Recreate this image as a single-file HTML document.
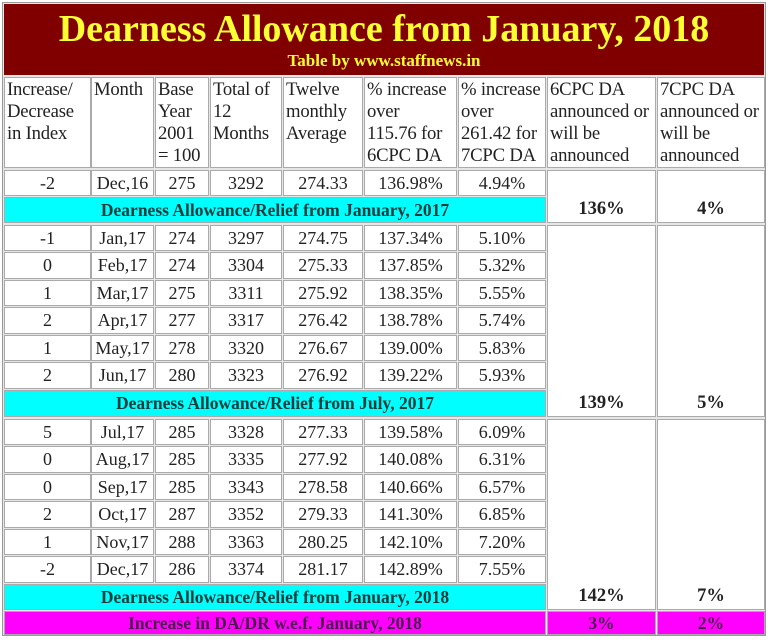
<!DOCTYPE html>
<html><head><meta charset="utf-8"><style>
body{margin:0;width:768px;height:640px;background:#fff;position:relative;overflow:hidden;font-family:"Liberation Serif",serif;}
.o{position:absolute;left:2px;top:2px;width:764px;height:634px;border:1px solid #999;box-sizing:border-box;background:#e6e6e6}
.c{position:absolute;box-sizing:border-box;border:1px solid #aaa;background:#fff;color:#222;font-size:18px;text-align:center;display:flex;align-items:center;justify-content:center;white-space:nowrap}
.h{align-items:flex-start;justify-content:flex-start;text-align:left;white-space:normal;line-height:22px;font-size:18.7px;padding:1px 0 0 2px;letter-spacing:-0.2px}
.cy{background:#00ffff;font-weight:bold;color:#173a3a;font-size:17.5px}
.mg{background:#ff00ff;font-weight:bold;color:#4a1a4a;font-size:17.5px}
.b{font-weight:bold;align-items:flex-end;padding-bottom:2px;font-size:18.5px}
.t{position:absolute;left:4px;top:4px;width:760px;height:71px;background:#800000;color:#ffff33;font-weight:bold;text-align:center}
</style></head><body>
<div class="o"></div>
<div class="t"><div style="font-size:38px;line-height:44px;margin-top:3px">Dearness Allowance from January, 2018</div><div style="font-size:17px;line-height:20px">Table by www.staffnews.in</div></div>

<div class="c h" style="left:4px;top:77px;width:87px;height:91px">Increase/ Decrease in Index</div>
<div class="c h" style="left:91px;top:77px;width:63px;height:91px">Month</div>
<div class="c h" style="left:155px;top:77px;width:54px;height:91px">Base Year 2001 = 100</div>
<div class="c h" style="left:210px;top:77px;width:72px;height:91px">Total of 12 Months</div>
<div class="c h" style="left:283px;top:77px;width:80px;height:91px">Twelve monthly Average</div>
<div class="c h" style="left:364px;top:77px;width:93px;height:91px">% increase<br>over<br>115.76 for<br>6CPC DA</div>
<div class="c h" style="left:458px;top:77px;width:88px;height:91px">% increase<br>over<br>261.42 for<br>7CPC DA</div>
<div class="c h" style="left:547px;top:77px;width:109px;height:91px">6CPC DA<br>announced or<br>will be<br>announced</div>
<div class="c h" style="left:657px;top:77px;width:108px;height:91px">7CPC DA<br>announced or<br>will be<br>announced</div>

<div class="c" style="left:4px;top:170px;width:87px;height:26px">-2</div>
<div class="c" style="left:91px;top:170px;width:63px;height:26px">Dec,16</div>
<div class="c" style="left:155px;top:170px;width:54px;height:26px">275</div>
<div class="c" style="left:210px;top:170px;width:72px;height:26px">3292</div>
<div class="c" style="left:283px;top:170px;width:80px;height:26px">274.33</div>
<div class="c" style="left:364px;top:170px;width:93px;height:26px">136.98%</div>
<div class="c" style="left:458px;top:170px;width:88px;height:26px">4.94%</div>
<div class="c cy" style="left:4px;top:197px;width:542px;height:26px">Dearness Allowance/Relief from January, 2017</div>
<div class="c b" style="left:547px;top:170px;width:109px;height:53px">136%</div>
<div class="c b" style="left:657px;top:170px;width:108px;height:53px">4%</div>

<div class="c" style="left:4px;top:225px;width:87px;height:26px">-1</div>
<div class="c" style="left:91px;top:225px;width:63px;height:26px">Jan,17</div>
<div class="c" style="left:155px;top:225px;width:54px;height:26px">274</div>
<div class="c" style="left:210px;top:225px;width:72px;height:26px">3297</div>
<div class="c" style="left:283px;top:225px;width:80px;height:26px">274.75</div>
<div class="c" style="left:364px;top:225px;width:93px;height:26px">137.34%</div>
<div class="c" style="left:458px;top:225px;width:88px;height:26px">5.10%</div>

<div class="c" style="left:4px;top:252px;width:87px;height:27px">0</div>
<div class="c" style="left:91px;top:252px;width:63px;height:27px">Feb,17</div>
<div class="c" style="left:155px;top:252px;width:54px;height:27px">274</div>
<div class="c" style="left:210px;top:252px;width:72px;height:27px">3304</div>
<div class="c" style="left:283px;top:252px;width:80px;height:27px">275.33</div>
<div class="c" style="left:364px;top:252px;width:93px;height:27px">137.85%</div>
<div class="c" style="left:458px;top:252px;width:88px;height:27px">5.32%</div>

<div class="c" style="left:4px;top:280px;width:87px;height:26px">1</div>
<div class="c" style="left:91px;top:280px;width:63px;height:26px">Mar,17</div>
<div class="c" style="left:155px;top:280px;width:54px;height:26px">275</div>
<div class="c" style="left:210px;top:280px;width:72px;height:26px">3311</div>
<div class="c" style="left:283px;top:280px;width:80px;height:26px">275.92</div>
<div class="c" style="left:364px;top:280px;width:93px;height:26px">138.35%</div>
<div class="c" style="left:458px;top:280px;width:88px;height:26px">5.55%</div>

<div class="c" style="left:4px;top:307px;width:87px;height:27px">2</div>
<div class="c" style="left:91px;top:307px;width:63px;height:27px">Apr,17</div>
<div class="c" style="left:155px;top:307px;width:54px;height:27px">277</div>
<div class="c" style="left:210px;top:307px;width:72px;height:27px">3317</div>
<div class="c" style="left:283px;top:307px;width:80px;height:27px">276.42</div>
<div class="c" style="left:364px;top:307px;width:93px;height:27px">138.78%</div>
<div class="c" style="left:458px;top:307px;width:88px;height:27px">5.74%</div>

<div class="c" style="left:4px;top:335px;width:87px;height:26px">1</div>
<div class="c" style="left:91px;top:335px;width:63px;height:26px">May,17</div>
<div class="c" style="left:155px;top:335px;width:54px;height:26px">278</div>
<div class="c" style="left:210px;top:335px;width:72px;height:26px">3320</div>
<div class="c" style="left:283px;top:335px;width:80px;height:26px">276.67</div>
<div class="c" style="left:364px;top:335px;width:93px;height:26px">139.00%</div>
<div class="c" style="left:458px;top:335px;width:88px;height:26px">5.83%</div>

<div class="c" style="left:4px;top:362px;width:87px;height:27px">2</div>
<div class="c" style="left:91px;top:362px;width:63px;height:27px">Jun,17</div>
<div class="c" style="left:155px;top:362px;width:54px;height:27px">280</div>
<div class="c" style="left:210px;top:362px;width:72px;height:27px">3323</div>
<div class="c" style="left:283px;top:362px;width:80px;height:27px">276.92</div>
<div class="c" style="left:364px;top:362px;width:93px;height:27px">139.22%</div>
<div class="c" style="left:458px;top:362px;width:88px;height:27px">5.93%</div>
<div class="c cy" style="left:4px;top:390px;width:542px;height:27px">Dearness Allowance/Relief from July, 2017</div>
<div class="c b" style="left:547px;top:225px;width:109px;height:192px">139%</div>
<div class="c b" style="left:657px;top:225px;width:108px;height:192px">5%</div>

<div class="c" style="left:4px;top:419px;width:87px;height:26px">5</div>
<div class="c" style="left:91px;top:419px;width:63px;height:26px">Jul,17</div>
<div class="c" style="left:155px;top:419px;width:54px;height:26px">285</div>
<div class="c" style="left:210px;top:419px;width:72px;height:26px">3328</div>
<div class="c" style="left:283px;top:419px;width:80px;height:26px">277.33</div>
<div class="c" style="left:364px;top:419px;width:93px;height:26px">139.58%</div>
<div class="c" style="left:458px;top:419px;width:88px;height:26px">6.09%</div>

<div class="c" style="left:4px;top:446px;width:87px;height:27px">0</div>
<div class="c" style="left:91px;top:446px;width:63px;height:27px">Aug,17</div>
<div class="c" style="left:155px;top:446px;width:54px;height:27px">285</div>
<div class="c" style="left:210px;top:446px;width:72px;height:27px">3335</div>
<div class="c" style="left:283px;top:446px;width:80px;height:27px">277.92</div>
<div class="c" style="left:364px;top:446px;width:93px;height:27px">140.08%</div>
<div class="c" style="left:458px;top:446px;width:88px;height:27px">6.31%</div>

<div class="c" style="left:4px;top:474px;width:87px;height:26px">0</div>
<div class="c" style="left:91px;top:474px;width:63px;height:26px">Sep,17</div>
<div class="c" style="left:155px;top:474px;width:54px;height:26px">285</div>
<div class="c" style="left:210px;top:474px;width:72px;height:26px">3343</div>
<div class="c" style="left:283px;top:474px;width:80px;height:26px">278.58</div>
<div class="c" style="left:364px;top:474px;width:93px;height:26px">140.66%</div>
<div class="c" style="left:458px;top:474px;width:88px;height:26px">6.57%</div>

<div class="c" style="left:4px;top:501px;width:87px;height:27px">2</div>
<div class="c" style="left:91px;top:501px;width:63px;height:27px">Oct,17</div>
<div class="c" style="left:155px;top:501px;width:54px;height:27px">287</div>
<div class="c" style="left:210px;top:501px;width:72px;height:27px">3352</div>
<div class="c" style="left:283px;top:501px;width:80px;height:27px">279.33</div>
<div class="c" style="left:364px;top:501px;width:93px;height:27px">141.30%</div>
<div class="c" style="left:458px;top:501px;width:88px;height:27px">6.85%</div>

<div class="c" style="left:4px;top:529px;width:87px;height:26px">1</div>
<div class="c" style="left:91px;top:529px;width:63px;height:26px">Nov,17</div>
<div class="c" style="left:155px;top:529px;width:54px;height:26px">288</div>
<div class="c" style="left:210px;top:529px;width:72px;height:26px">3363</div>
<div class="c" style="left:283px;top:529px;width:80px;height:26px">280.25</div>
<div class="c" style="left:364px;top:529px;width:93px;height:26px">142.10%</div>
<div class="c" style="left:458px;top:529px;width:88px;height:26px">7.20%</div>

<div class="c" style="left:4px;top:556px;width:87px;height:27px">-2</div>
<div class="c" style="left:91px;top:556px;width:63px;height:27px">Dec,17</div>
<div class="c" style="left:155px;top:556px;width:54px;height:27px">286</div>
<div class="c" style="left:210px;top:556px;width:72px;height:27px">3374</div>
<div class="c" style="left:283px;top:556px;width:80px;height:27px">281.17</div>
<div class="c" style="left:364px;top:556px;width:93px;height:27px">142.89%</div>
<div class="c" style="left:458px;top:556px;width:88px;height:27px">7.55%</div>
<div class="c cy" style="left:4px;top:584px;width:542px;height:26px">Dearness Allowance/Relief from January, 2018</div>
<div class="c b" style="left:547px;top:419px;width:109px;height:191px">142%</div>
<div class="c b" style="left:657px;top:419px;width:108px;height:191px">7%</div>

<div class="c mg" style="left:4px;top:611px;width:542px;height:24px">Increase in DA/DR w.e.f. January, 2018</div>
<div class="c mg" style="left:547px;top:611px;width:109px;height:24px">3%</div>
<div class="c mg" style="left:657px;top:611px;width:108px;height:24px">2%</div>
</body></html>
